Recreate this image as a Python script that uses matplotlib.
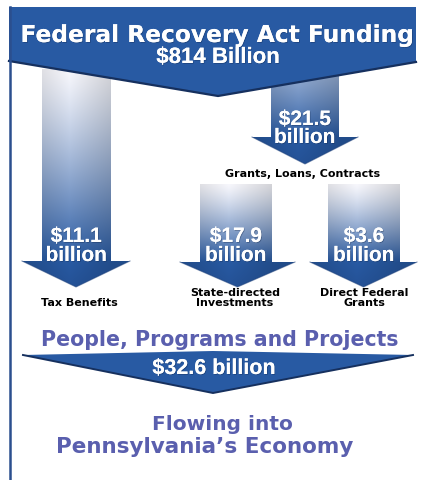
import matplotlib
matplotlib.use("Agg")
import matplotlib.pyplot as plt
import numpy as np
from matplotlib.patches import Polygon
import matplotlib.patheffects as pe

# ---- data ----
federal_total = 814          # $ billion
pa_total = 32.6              # $ billion
flow_amounts = [21.5, 11.1, 17.9, 3.6]
flow_labels = ["Grants, Loans, Contracts", "Tax Benefits",
               "State-directed\nInvestments", "Direct Federal\nGrants"]
title = "Federal Recovery Act Funding"
middle_caption = "People, Programs and Projects"
bottom_caption = ["Flowing into", "Pennsylvania\u2019s Economy"]

# ---- layout (pixel coords, y down) ----
# shaft_left, shaft_right, shaft_top, head_top, head_left, head_right, tip_y, start_tint
arrow_geom = [
    (271, 339, 62, 138, 252, 358, 165, 0.40),
    (42, 111, 70, 262, 22, 130, 288, 0.0),
    (200, 272, 185, 263, 180, 295, 288, 0.0),
    (328, 400, 185, 263, 310, 417, 288, 0.0),
]
amount_baselines = [(126, 144), (243, 262), (243, 262), (243, 262)]
label_pos = [(303, 177), (79, 306), (235, 306), (364, 306)]

BLUE = np.array([40, 90, 163]) / 255
DARK = np.array([28, 62, 120]) / 255
TEXT_PURPLE = "#5a5fae"
W, H = 422, 481

fig = plt.figure(figsize=(W / 100, H / 100), dpi=100)
ax = fig.add_axes([0, 0, 1, 1])
ax.set_xlim(0, W)
ax.set_ylim(H, 0)
ax.axis("off")

shadow = [pe.withSimplePatchShadow(offset=(0.6, -0.6), shadow_rgbFace="#0d1f40", alpha=0.35), pe.Normal()]

# arrows with a white-to-blue gradient
for (x0, x1, yt, yh, hl, hr, ytip, tint0) in arrow_geom:
    xc = (hl + hr) / 2
    verts = [(x0, yt), (x1, yt), (x1, yh), (hr, yh), (xc, ytip), (hl, yh), (x0, yh)]
    patch = Polygon(verts, closed=True, facecolor="none", edgecolor="none")
    ax.add_patch(patch)
    ny, nx = 200, 60
    ys = np.linspace(yt, ytip, ny)[:, None]
    xs = np.linspace(hl, hr, nx)[None, :]
    t = np.clip((ys - yt) / (yh - yt), 0, 1)
    t = tint0 + (1 - tint0) * t ** 1.2
    # slight horizontal shading across the shaft
    u = (xs - x0) / (x1 - x0)
    shade = 1 - 0.15 * np.clip(np.abs(u - 0.4) * 1.6, 0, 1)
    base = BLUE[None, None, :] * t[..., None] + (1 - t[..., None]) * np.array([0.97, 0.97, 0.99])
    base = base * shade[..., None]
    head = np.clip((ys - yh) / (ytip - yh), 0, 1)[..., None]
    head = head * (ys >= yh)[..., None]
    rgb = base * (1 - 0.3 * head) + DARK * 0.3 * head
    rgb = np.clip(rgb, 0, 1)
    im = ax.imshow(rgb, extent=(hl, hr, ytip, yt), origin="upper",
                   aspect="auto", interpolation="bilinear", zorder=2)
    im.set_clip_path(patch)
    ax.plot([hl, xc, hr], [yh, ytip, yh], color=DARK, lw=0.8, alpha=0.5, zorder=2)

# amounts on arrows and labels below
for amt, (b1, b2), (x0, x1, *_rest), lab, (lx, ly) in zip(
        flow_amounts, amount_baselines, arrow_geom, flow_labels, label_pos):
    xc = (x0 + x1) / 2
    ax.text(xc, b1, f"${amt}", ha="center", va="baseline", color="white",
            fontsize=15, fontweight="bold", family="Liberation Sans",
            zorder=5, path_effects=shadow)
    ax.text(xc, b2, "billion", ha="center", va="baseline", color="white",
            fontsize=15, fontweight="bold", family="Liberation Sans",
            zorder=5, path_effects=shadow)
    ax.text(lx, ly, lab, ha="center", va="baseline", color="black",
            fontsize=8, fontweight="bold", family="DejaVu Sans",
            linespacing=1.05, zorder=5)

# top banner
top = Polygon([(9, 8), (416, 8), (416, 63), (218, 97), (9, 62)], closed=True,
              facecolor=BLUE, edgecolor="none", zorder=3)
ax.add_patch(top)
ax.plot([9, 218, 416], [62, 97, 63], color="#16305e", lw=1.6, zorder=3)
ax.text(218, 43, title, ha="center", va="baseline", color="white",
        fontsize=16.8, fontweight="bold", family="DejaVu Sans", zorder=4,
        path_effects=shadow)
ax.text(218, 64, f"${federal_total} Billion", ha="center", va="baseline",
        color="white", fontsize=16, fontweight="bold",
        family="Liberation Sans", zorder=4, path_effects=shadow)

# left border line
ax.plot([9.5, 9.5], [8, H], color="#2b4f8e", lw=1.8, zorder=4)

# middle caption and bottom banner
ax.text(220, 346, middle_caption, ha="center", va="baseline", color=TEXT_PURPLE,
        fontsize=14.8, fontweight="bold", family="DejaVu Sans", zorder=4)
bottom = Polygon([(23, 356), (213, 352), (413, 356), (213, 394)], closed=True,
                 facecolor=BLUE, edgecolor="none", zorder=3)
ax.add_patch(bottom)
ax.plot([23, 213, 413], [356, 394, 356], color="#16305e", lw=1.4, zorder=3)
ax.text(214, 375, f"${pa_total} billion", ha="center", va="baseline",
        color="white", fontsize=15.5, fontweight="bold",
        family="Liberation Sans", zorder=4, path_effects=shadow)
ax.text(222, 430, bottom_caption[0], ha="center", va="baseline", color=TEXT_PURPLE,
        fontsize=14.5, fontweight="bold", family="DejaVu Sans", zorder=4)
ax.text(205, 453, bottom_caption[1], ha="center", va="baseline", color=TEXT_PURPLE,
        fontsize=15.5, fontweight="bold", family="DejaVu Sans", zorder=4)

fig.savefig("out.png", dpi=100)
